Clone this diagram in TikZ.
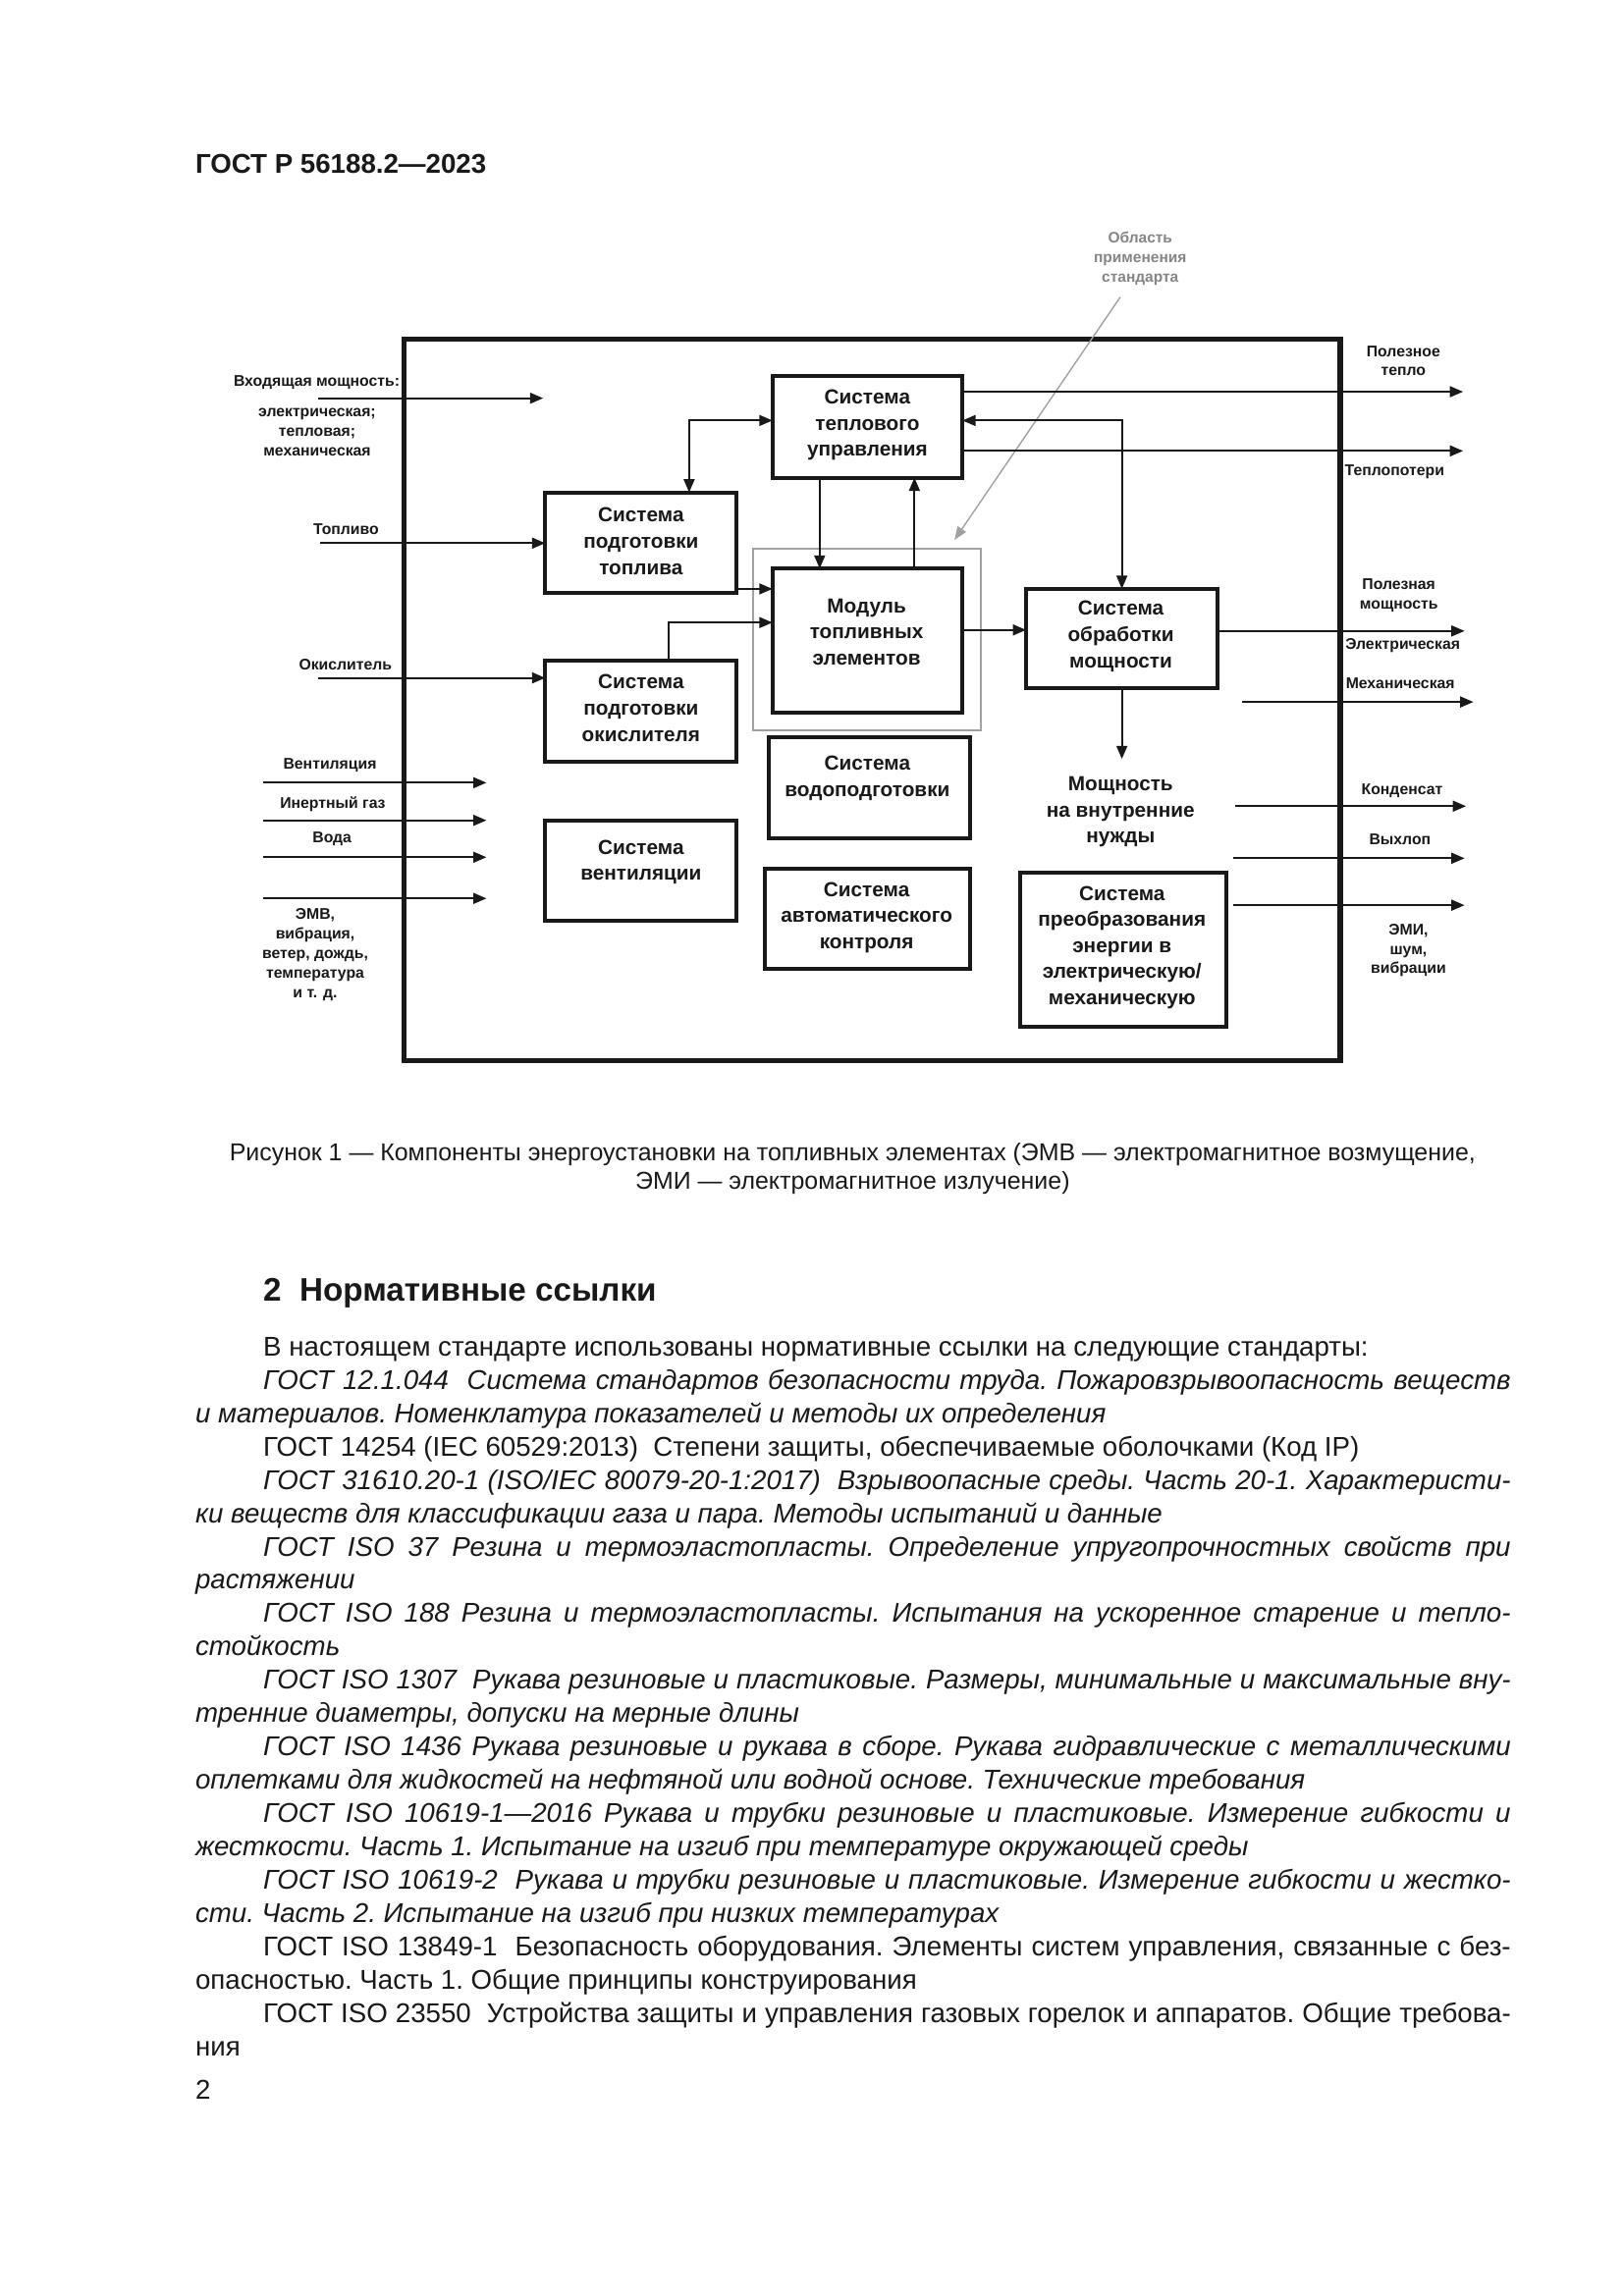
\documentclass[tikz,border=0pt]{standalone}
\usepackage{fontspec}
\setmainfont{Liberation Sans}
\usetikzlibrary{arrows.meta,fit,calc}
\newdimen\myu \myu=0.190909mm
\definecolor{scopegrey}{gray}{0.63}
\definecolor{labgrey}{gray}{0.52}
\definecolor{ink}{gray}{0.1}
\newcommand\indline[1]{\makebox[845\myu][s]{#1}}
\tikzset{
  box/.style={draw=ink, line width=1.4pt, inner sep=0pt, outer sep=0pt},
  outerframe/.style={draw=ink, line width=1.9pt, inner sep=0pt, outer sep=0pt},
  scopebox/.style={draw=scopegrey, line width=0.75pt, inner sep=0pt, outer sep=0pt},
  btxt/.style={align=center, font=\fontsize{7.5pt}{9.6pt}\selectfont\bfseries, text=ink, inner sep=0pt},
  lab/.style={align=center, font=\fontsize{5.7pt}{7.2pt}\selectfont\bfseries, text=ink, inner sep=0pt},
  glab/.style={align=center, font=\fontsize{5.6pt}{7.1pt}\selectfont\bfseries, text=labgrey, inner sep=0pt},
  arr/.style={draw=ink, line width=0.65pt, -{Triangle[length=1.7mm,width=1.4mm]}},
  darr/.style={draw=ink, line width=0.65pt, {Triangle[length=1.7mm,width=1.4mm]}-{Triangle[length=1.7mm,width=1.4mm]}},
  garr/.style={draw=scopegrey, line width=0.5pt, -{Triangle[length=1.7mm,width=1.3mm]}, color=scopegrey},
  body/.style={anchor=base west, inner sep=0pt, font=\fontsize{10pt}{12.3pt}\selectfont\frenchspacing, text=ink},
  ibody/.style={body, font=\fontsize{10pt}{12.3pt}\selectfont\frenchspacing\itshape},
  captxt/.style={anchor=base, inner sep=0pt, font=\fontsize{9pt}{11pt}\selectfont\frenchspacing, text=ink},
}
\begin{document}
\begin{tikzpicture}[x=0.190909mm, y=-0.190909mm]
\fill[white] (0,0) rectangle (1100,1555.6);
\useasboundingbox (0,0) rectangle (1100,1555.6);

% header
\node[anchor=base west, inner sep=0pt, font=\fontsize{10pt}{12pt}\selectfont\bfseries, text=ink] (hdr) at (132,117.5) {ГОСТ Р 56188.2—2023};

% frame and scope
\node[outerframe, fit={(273.7,229.9)(907.8,718.5)}] (frame) {};
\node[scopebox, fit={(510,371.9)(664.5,494.6)}] (scope) {};

% boxes
\node[box, fit={(523.2,254.9)(651.9,323.7)}] (thermal) {};
\node[btxt] (thermalT) at (587.5,288) {Система\\теплового\\управления};
\node[box, fit={(369.3,333.6)(499,401.7)}] (fuel) {};
\node[btxt] (fuelT) at (434.2,366.7) {Система\\подготовки\\топлива};
\node[box, fit={(523.2,385.2)(651.8,482.6)}] (module) {};
\node[btxt] (moduleT) at (587,428.2) {Модуль\\топливных\\элементов};
\node[box, fit={(369.3,447.5)(499,516.1)}] (oxid) {};
\node[btxt] (oxidT) at (434.2,479.7) {Система\\подготовки\\окислителя};
\node[box, fit={(695,398.9)(824.8,466.4)}] (proc) {};
\node[btxt] (procT) at (759.2,431.2) {Система\\обработки\\мощности};
\node[box, fit={(520.9,499.5)(657.1,568.2)}] (water) {};
\node[btxt] (waterT) at (587.5,527.4) {Система\\водоподготовки};
\node[box, fit={(369.3,556)(499,624)}] (vent) {};
\node[btxt] (ventT) at (434.2,584.1) {Система\\вентиляции};
\node[box, fit={(518,588.7)(656.9,656.5)}] (auto) {};
\node[btxt] (autoT) at (587,621.5) {Система\\автоматического\\контроля};
\node[box, fit={(691.2,591)(830.8,695.8)}] (conv) {};
\node[btxt] (convT) at (760,642) {Система\\преобразования\\энергии в\\электрическую/\\механическую};
\node[btxt] (ownneeds) at (759,550.1) {Мощность\\на внутренние\\нужды};

% grey callout
\node[glab] (scopeL) at (772.3,175.1) {Область\\применения\\стандарта};
\coordinate (callS) at (758.8,201.3);
\coordinate (callE) at (646.5,365.8);
\draw[garr] (callS) -- (callE);

% left labels
\node[lab] (inL) at (214.5,259.4) {Входящая мощность:};
\node[lab] (inL2) at (214.8,292.6) {электрическая;\\тепловая;\\механическая};
\node[lab] (fuelL) at (234.4,358.5) {Топливо};
\node[lab] (oxL) at (234,450) {Окислитель};
\node[lab] (ventL) at (223.5,518.7) {Вентиляция};
\node[lab] (inertL) at (225.4,544.7) {Инертный газ};
\node[lab] (waterL) at (224.9,568.6) {Вода};
\node[lab] (emvL) at (213.5,647) {ЭМВ,\\вибрация,\\ветер, дождь,\\температура\\и т. д.};

% right labels
\node[lab] (heatL) at (950.6,244.5) {Полезное\\тепло};
\node[lab] (lossL) at (944.6,319.9) {Теплопотери};
\node[lab] (powL) at (947.5,403.5) {Полезная\\мощность};
\node[lab] (elL) at (950.2,437.6) {Электрическая};
\node[lab] (mechL) at (948.5,462.7) {Механическая};
\node[lab] (condL) at (949.7,535.6) {Конденсат};
\node[lab] (exhL) at (948.3,568.6) {Выхлоп};
\node[lab] (emiL) at (954,643.9) {ЭМИ,\\шум,\\вибрации};

% left arrows
\coordinate (inS) at (215.7,269.8); \coordinate (inE) at (367.9,269.8);
\draw[arr] (inS) -- (inE);
\coordinate (fuelS) at (216.9,368);
\draw[arr] (fuelS) -- (fuelS -| fuel.west);
\coordinate (oxS) at (215.2,459.3);
\draw[arr] (oxS) -- (oxS -| oxid.west);
\coordinate (ventS) at (178,530.3); \coordinate (ventE) at (329.5,530.3);
\draw[arr] (ventS) -- (ventE);
\coordinate (inertS) at (178,555.8); \coordinate (inertE) at (329.5,555.8);
\draw[arr] (inertS) -- (inertE);
\coordinate (waterS) at (178,580.8); \coordinate (waterE) at (329.5,580.8);
\draw[arr] (waterS) -- (waterE);
\coordinate (emvS) at (178,608.7); \coordinate (emvE) at (329.5,608.7);
\draw[arr] (emvS) -- (emvE);

% internal connectors
\coordinate (hA) at (466.8,284.9);
\draw[darr] (hA |- fuel.north) |- (thermal.west |- hA);
\coordinate (hB) at (555.2,0);
\draw[arr] (hB |- thermal.south) -- (hB |- module.north);
\coordinate (hC) at (619.4,0);
\draw[arr] (hC |- module.north) -- (hC |- thermal.south);
\coordinate (hD) at (0,399);
\draw[arr] (fuel.east |- hD) -- (module.west |- hD);
\coordinate (hE) at (453,421.8);
\draw[arr] (hE |- oxid.north) |- (module.west |- hE);
\coordinate (hF) at (0,426.8);
\draw[arr] (module.east |- hF) -- (proc.west |- hF);
\draw[darr] (thermal.east |- hA) -| (proc.north);
\coordinate (procD) at (759.9,514.2);
\draw[arr] (proc.south) -- (procD);

% right arrows
\coordinate (heatE) at (991,265.4);
\draw[arr] (thermal.east |- heatE) -- (heatE);
\coordinate (lossE) at (991,305.5);
\draw[arr] (thermal.east |- lossE) -- (lossE);
\coordinate (powE) at (992,427.5);
\draw[arr] (proc.east |- powE) -- (powE);
\coordinate (mechS) at (841.5,475.6); \coordinate (mechE) at (998,475.6);
\draw[arr] (mechS) -- (mechE);
\coordinate (condS) at (836.5,546.2); \coordinate (condE) at (993,546.2);
\draw[arr] (condS) -- (condE);
\coordinate (exhS) at (835.5,581.5); \coordinate (exhE) at (992,581.5);
\draw[arr] (exhS) -- (exhE);
\coordinate (emiS) at (835.5,613.3); \coordinate (emiE) at (992,613.3);
\draw[arr] (emiS) -- (emiE);

% caption
\node[captxt] (cap1) at (577.5,786.4) {Рисунок 1 — Компоненты энергоустановки на топливных элементах (ЭМВ — электромагнитное возмущение,};
\node[captxt] (cap2) at (577.5,805.7) {ЭМИ — электромагнитное излучение)};

% heading
\node[anchor=base west, inner sep=0pt, font=\fontsize{12pt}{14pt}\selectfont\bfseries, text=ink] (sec) at (178,881.5) {2\ \ Нормативные ссылки};

% body
\node[body] (L0) at (178,{918.6+22.59*0}) {В настоящем стандарте использованы нормативные ссылки на следующие стандарты:};
\node[ibody] (L1) at (178,{918.6+22.59*1}) {\indline{ГОСТ 12.1.044\ \ Система стандартов безопасности труда. Пожаровзрывоопасность веществ}};
\node[ibody] (L2) at (132,{918.6+22.59*2}) {и материалов. Номенклатура показателей и методы их определения};
\node[body] (L3) at (178,{918.6+22.59*3}) {ГОСТ 14254 (IEC 60529:2013)\ \ Степени защиты, обеспечиваемые оболочками (Код IP)};
\node[ibody] (L4) at (178,{918.6+22.59*4}) {\indline{ГОСТ 31610.20-1 (ISO/IEC 80079-20-1:2017)\ \ Взрывоопасные среды. Часть 20-1. Характеристи-}};
\node[ibody] (L5) at (132,{918.6+22.59*5}) {ки веществ для классификации газа и пара. Методы испытаний и данные};
\node[ibody] (L6) at (178,{918.6+22.59*6}) {\indline{ГОСТ ISO 37 Резина и термоэластопласты. Определение упругопрочностных свойств при}};
\node[ibody] (L7) at (132,{918.6+22.59*7}) {растяжении};
\node[ibody] (L8) at (178,{918.6+22.59*8}) {\indline{ГОСТ ISO 188 Резина и термоэластопласты. Испытания на ускоренное старение и тепло-}};
\node[ibody] (L9) at (132,{918.6+22.59*9}) {стойкость};
\node[ibody] (L10) at (178,{918.6+22.59*10}) {\indline{ГОСТ ISO 1307\ \ Рукава резиновые и пластиковые. Размеры, минимальные и максимальные вну-}};
\node[ibody] (L11) at (132,{918.6+22.59*11}) {тренние диаметры, допуски на мерные длины};
\node[ibody] (L12) at (178,{918.6+22.59*12}) {\indline{ГОСТ ISO 1436 Рукава резиновые и рукава в сборе. Рукава гидравлические с металлическими}};
\node[ibody] (L13) at (132,{918.6+22.59*13}) {оплетками для жидкостей на нефтяной или водной основе. Технические требования};
\node[ibody] (L14) at (178,{918.6+22.59*14}) {\indline{ГОСТ ISO 10619-1—2016 Рукава и трубки резиновые и пластиковые. Измерение гибкости и}};
\node[ibody] (L15) at (132,{918.6+22.59*15}) {жесткости. Часть 1. Испытание на изгиб при температуре окружающей среды};
\node[ibody] (L16) at (178,{918.6+22.59*16}) {\indline{ГОСТ ISO 10619-2\ \ Рукава и трубки резиновые и пластиковые. Измерение гибкости и жестко-}};
\node[ibody] (L17) at (132,{918.6+22.59*17}) {сти. Часть 2. Испытание на изгиб при низких температурах};
\node[body] (L18) at (178,{918.6+22.59*18}) {\indline{ГОСТ ISO 13849-1\ \ Безопасность оборудования. Элементы систем управления, связанные с без-}};
\node[body] (L19) at (132,{918.6+22.59*19}) {опасностью. Часть 1. Общие принципы конструирования};
\node[body] (L20) at (178,{918.6+22.59*20}) {\indline{ГОСТ ISO 23550\ \ Устройства защиты и управления газовых горелок и аппаратов. Общие требова-}};
\node[body] (L21) at (132,{918.6+22.59*21}) {ния};

% page number
\node[anchor=base west, inner sep=0pt, font=\fontsize{10pt}{12pt}\selectfont, text=ink] (pgno) at (132,1422) {2};
\end{tikzpicture}
\end{document}
